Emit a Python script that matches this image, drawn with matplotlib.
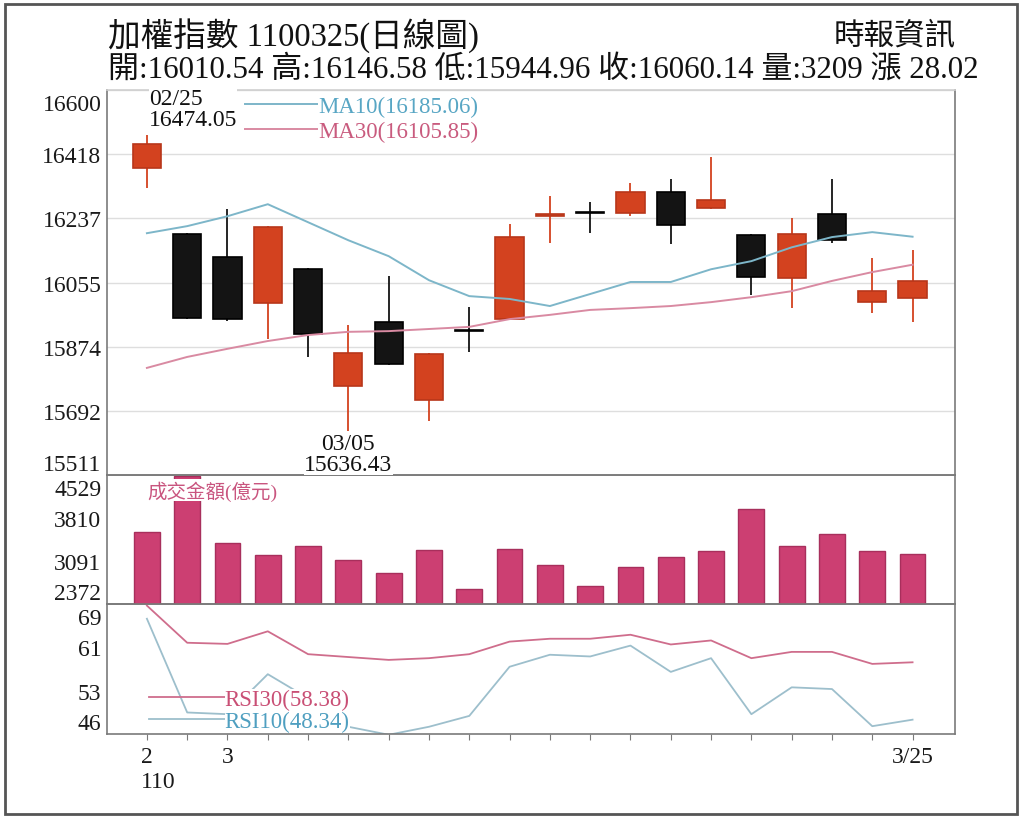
import numpy as np
import matplotlib
matplotlib.use("Agg")
import matplotlib.pyplot as plt
from matplotlib.patches import Rectangle
from matplotlib.transforms import ScaledTranslation

plt.rcParams['font.family'] = ['Liberation Serif', 'Noto Sans CJK TC']

# ---------------------------------------------------------------- data
DATES = ['2/25', '2/26', '3/2', '3/3', '3/4', '3/5', '3/8', '3/9', '3/10', '3/11',
         '3/12', '3/15', '3/16', '3/17', '3/18', '3/19', '3/22', '3/23', '3/24', '3/25']
OPEN = [16380, 16192, 16128, 15998, 16093, 15764, 15945, 15722, 15921, 15952,
        16245, 16256, 16253, 16312, 16265, 16189, 16067, 16249, 16001, 16010.54]
HIGH = [16474.05, 16195, 16263, 16216, 16096, 15935, 16073, 15856, 15985, 16220,
        16299, 16283, 16338, 16347, 16411, 16192, 16237, 16349, 16126, 16146.58]
LOW = [16322, 15953, 15948, 15896, 15844, 15636.43, 15822, 15665, 15860, 15950,
       16167, 16195, 16244, 16164, 16263, 16020, 15982, 16166, 15969, 15944.96]
CLOSE = [16448, 15956, 15952, 16213, 15910, 15856, 15825, 15854, 15917, 16183,
         16250, 16251, 16312, 16218, 16289, 16070, 16192, 16175, 16032, 16060.14]
MA10 = [16195, 16215, 16243, 16277, 16226, 16175, 16130, 16062, 16017, 16009,
        15989, 16023, 16057, 16057, 16093, 16116, 16155, 16184, 16198, 16185.06]
MA30 = [15814, 15845, 15868, 15890, 15907, 15916, 15918, 15924, 15930, 15952,
        15964, 15978, 15983, 15989, 16000, 16014, 16031, 16060, 16085, 16105.85]
VOLUME = [3571, 4512, 3392, 3191, 3337, 3108, 2890, 3275, 2623, 3292,
          3024, 2673, 2991, 3163, 3263, 3960, 3347, 3542, 3253, 3209]
RSI30 = [68.3, 61.8, 61.6, 63.8, 59.8, 59.3, 58.8, 59.1, 59.8, 62.0,
         62.5, 62.5, 63.2, 61.5, 62.2, 59.1, 60.2, 60.2, 58.1, 58.38]
RSI10 = [66.0, 49.6, 49.3, 56.3, 52.1, 47.1, 45.7, 47.1, 49.0, 57.6,
         59.7, 59.4, 61.3, 56.7, 59.1, 49.3, 54.0, 53.7, 47.2, 48.34]

PRICE_TICKS = [16600, 16418, 16237, 16055, 15874, 15692, 15511]
VOL_TICKS = [4529, 3810, 3091, 2372]
RSI_TICKS = [68.58, 61.0, 53.42, 45.84]
RSI_LABELS = ['69', '61', '53', '46']

TITLE = "加權指數 1100325(日線圖)"
SOURCE = "時報資訊"
SUMMARY = "開:16010.54 高:16146.58 低:15944.96 收:16060.14 量:3209 漲 28.02"

RED = "#d3421f"
BLACK = "#141414"
MA10_C = "#7db6c9"
MA30_C = "#d98aa2"
VOL_C = "#cc3f72"
RSI30_C = "#cf6d8c"
RSI10_C = "#9dbfcc"
SPINE = "#7a7a7a"


def mmdd(d):
    m, dd = d.split('/')
    return f"{int(m):02d}/{int(dd):02d}"


x = np.arange(len(DATES))
o, h, l, c = map(np.array, (OPEN, HIGH, LOW, CLOSE))
up = c >= o
colors = [RED if u else BLACK for u in up]

fig = plt.figure(figsize=(10.24, 8.2), dpi=100)
L, W = 0.1045, 0.828
ax_p = fig.add_axes([L, 0.4195, W, 0.4695])
ax_v = fig.add_axes([L, 0.2622, W, 0.1573])
ax_r = fig.add_axes([L, 0.1037, W, 0.1585])
ax_p.set_zorder(3)
ax_v.set_zorder(2)
for ax in (ax_p, ax_v, ax_r):
    ax.set_xlim(-0.99, 20.05)
    ax.set_facecolor("none")
    for s in ax.spines.values():
        s.set_color(SPINE)
        s.set_linewidth(1.2)
    ax.tick_params(axis='y', length=0, pad=4, labelsize=17, labelcolor="#1a1a1a")

# ---------------------------------------------------------------- price
ax_p.spines['top'].set_color("#cfcfcf")
ax_p.set_ylim(15511, 16600)
ax_p.set_yticks(PRICE_TICKS)
ax_p.set_yticklabels([str(t) for t in PRICE_TICKS])
ax_p.grid(axis='y', color="#dedede", lw=1)
ax_p.set_axisbelow(True)
ax_p.set_xticks([])
ax_p.vlines(x, l, h, colors=colors, lw=1.3, zorder=2)
ax_p.bar(x, np.maximum(np.abs(c - o), 2), bottom=np.minimum(o, c), width=0.7,
         color=colors, edgecolor=["#b8361a" if u else "#000" for u in up],
         lw=1.2, zorder=3)
ax_p.plot(x, MA10, color=MA10_C, lw=1.4, zorder=4, label="MA10(16185.06)")
ax_p.plot(x, MA30, color=MA30_C, lw=1.4, zorder=4, label="MA30(16105.85)")
leg = ax_p.legend(loc='upper left', bbox_to_anchor=(0.16, 0.99), frameon=False,
                  fontsize=16.5, handlelength=3.2, handletextpad=0.0,
                  labelspacing=0.15, borderpad=0.1, borderaxespad=0,
                  labelcolor=["#58a6c4", "#c95b7e"])
for t in leg.get_texts():
    t.set_bbox(dict(fc="white", ec="none", pad=0))

hi = int(np.argmax(h))
lo = int(np.argmin(l))
ax_p.text(x[hi] + 0.05, h[hi] + 12, f"{mmdd(DATES[hi])}\n{h[hi]:.2f}",
          ha='left', va='bottom', fontsize=17, linespacing=1.0, color="#111",
          bbox=dict(fc="white", ec="none", pad=0), zorder=5)
ax_p.text(x[lo], l[lo] - 8, f"{mmdd(DATES[lo])}\n{l[lo]:.2f}", ha='center', va='top',
          fontsize=17, linespacing=1.0, multialignment='center', color="#111",
          bbox=dict(fc="white", ec="none", pad=0), zorder=5, clip_on=False)

# ---------------------------------------------------------------- volume
ax_v.set_ylim(2372, 4529)
ax_v.set_yticks(VOL_TICKS)
ax_v.set_yticklabels([str(t) for t in VOL_TICKS])
ax_v.set_xticks([])
ax_v.bar(x, np.array(VOLUME) - 2372, bottom=2372, width=0.64, color=VOL_C,
         edgecolor="#a82f5c", lw=1.0, zorder=2)
ax_v.text(0.048, 0.88, "成交金額(億元)", transform=ax_v.transAxes, ha='left',
          va='center', fontsize=14, color="#c9557f",
          bbox=dict(fc="white", ec="none", pad=0.5), zorder=5)

# ---------------------------------------------------------------- RSI
ax_r.set_ylim(45.84, 68.58)
ax_r.set_yticks(RSI_TICKS)
ax_r.set_yticklabels(RSI_LABELS)
ax_r.plot(x, RSI30, color=RSI30_C, lw=1.3, label="RSI30(58.38)")
ax_r.plot(x, RSI10, color=RSI10_C, lw=1.3, label="RSI10(48.34)")
leg2 = ax_r.legend(loc='lower left', bbox_to_anchor=(0.047, 0.0), frameon=False,
                   fontsize=16.5, handlelength=3.3, handletextpad=0.0,
                   labelspacing=0.0, borderpad=0.1, borderaxespad=0,
                   labelcolor=["#c94f75", "#4f9fc0"])
for t in leg2.get_texts():
    t.set_bbox(dict(fc="white", ec="none", pad=0))
xlabels = ['' for _ in DATES]
xlabels[0], xlabels[2], xlabels[-1] = '2', '3', DATES[-1]
ax_r.set_xticks(x)
ax_r.set_xticklabels(xlabels)
ax_r.tick_params(axis='x', length=4, color=SPINE, labelsize=17, pad=5,
                 labelcolor="#1a1a1a")
ax_r.annotate("110", xy=(x[0], 0), xycoords=('data', 'axes fraction'),
              xytext=(8, -34), textcoords='offset points', ha='center',
              va='center', fontsize=17, color="#1a1a1a")

# extreme tick labels sit inside the panel
for ax in (ax_p, ax_v, ax_r):
    labs = ax.get_yticklabels()
    labs[0].set_va('top')
    labs[-1].set_va('bottom')
    labs[0].set_transform(labs[0].get_transform()
                          + ScaledTranslation(0, -3 / 72, fig.dpi_scale_trans))

# ---------------------------------------------------------------- header
fig.text(0.1055, 0.957, TITLE, ha='left', va='center', fontsize=23.5, color="#111")
fig.text(0.933, 0.954, SOURCE, ha='right', va='center', fontsize=22, color="#111")
fig.text(0.1055, 0.915, SUMMARY, ha='left', va='center', fontsize=22.3, color="#111")
fig.patches.append(Rectangle((0.005, 0.006), 0.988, 0.988, transform=fig.transFigure,
                             fill=False, ec="#555555", lw=2))

fig.savefig("out.png", dpi=100, facecolor="white")
